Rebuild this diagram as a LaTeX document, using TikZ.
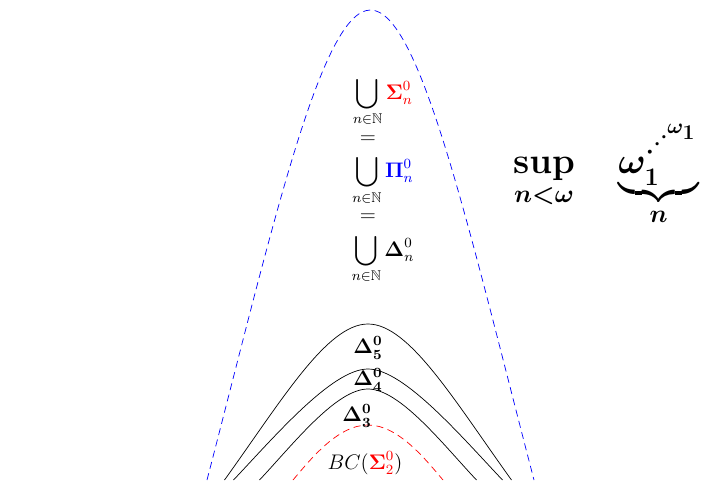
\documentclass[tikz,border=0pt]{standalone}
\usepackage{amsmath,amssymb}
\usepackage{exscale}
\tikzset{bound/.style={dash pattern=on 4pt off 2.6pt}}
\begin{document}
\begin{tikzpicture}[every node/.style={font=\large}]
	\useasboundingbox (-7.36,0) rectangle (7.18,9.6);
	\clip (-7.36,0) rectangle (7.18,9.6);
	% the bounds
	\coordinate (Bl) at (-3.22,0);
	\coordinate (Bt) at (0.05,9.4);
	\coordinate (Br) at (3.32,0);
	\draw [bound,blue] (Bl) .. controls (-1.92,5) and (-0.94,9.4) .. (Bt) .. controls (1.04,9.4) and (2.02,5) .. (Br);
	\draw (-2.87,0) .. controls (-1.72,1.6) and (-0.82,3.12) .. (0,3.12) .. controls (0.82,3.12) and (1.72,1.6) .. (2.87,0);
	\draw (-2.69,0) .. controls (-1.84,0.9) and (-0.71,2.22) .. (0,2.22) .. controls (0.71,2.22) and (1.84,0.9) .. (2.69,0);
	\draw (-2.17,0) .. controls (-1.51,0.7) and (-0.64,1.82) .. (0,1.82) .. controls (0.64,1.82) and (1.51,0.7) .. (2.17,0);
	\draw [bound,red] (-1.5,0) .. controls (-1.16,0.4) and (-0.61,1.1) .. (0,1.1) .. controls (0.61,1.1) and (1.16,0.4) .. (1.5,0);
	% the labels
	\node (U1) at (0.3,7.56) {$\displaystyle\bigcup_{n\in\mathbb{N}}\color{red}\boldsymbol{\Sigma}^0_n$};
	\node (E1) at (0,6.8) {$=$};
	\node (U2) at (0.3,5.99) {$\displaystyle\bigcup_{n\in\mathbb{N}}\color{blue}\boldsymbol{\Pi}^0_n$};
	\node (E2) at (0,5.24) {$=$};
	\node (U3) at (0.3,4.42) {$\displaystyle\bigcup_{n\in\mathbb{N}}\boldsymbol{\Delta}^0_n$};
	\node (D5) at (0,2.64) {$\boldsymbol{\Delta^0_5}$};
	\node (D4) at (0,2.0) {$\boldsymbol{\Delta^0_4}$};
	\node (D3) at (-0.22,1.28) {$\boldsymbol{\Delta^0_3}$};
	\node (BC) at (-0.06,0.34) {$BC({\color{red}\boldsymbol{\Sigma}^0_2})$};
	\node (S) at (4.76,6.1) {\huge$\boldsymbol{\displaystyle\sup_{n<\omega}\quad\underbrace{\omega_1^{\cdot^{\cdot^{\cdot^{\omega_1}}}}}_{n}}$};
\end{tikzpicture}
\end{document}
